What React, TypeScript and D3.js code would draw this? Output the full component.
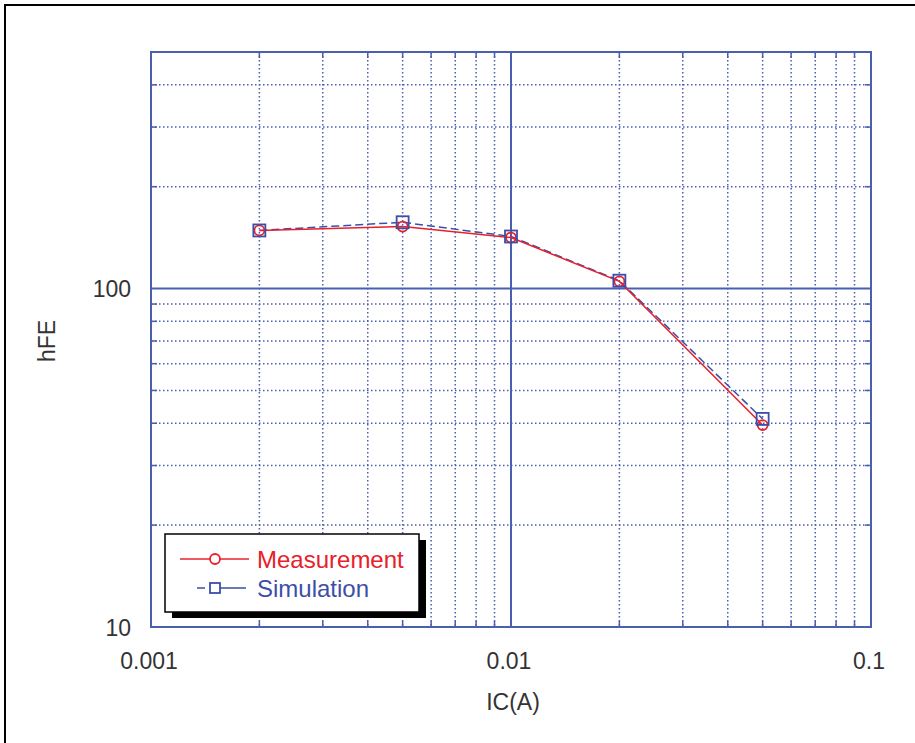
import React, { useRef, useEffect } from 'react';
import * as d3 from 'd3';

// IC (A) values at which hFE was measured / simulated
const icValues = [0.002, 0.005, 0.01, 0.02, 0.05];
const measurement = [148.5, 152.5, 141.5, 105, 39.5];
const simulation = [148.5, 157, 142.5, 105.5, 41.2];

const xTickLabels = ['0.001', '0.01', '0.1'];
const yTickLabels = ['10', '100'];
const seriesNames = ['Measurement', 'Simulation'];

const W = 915;
const H = 743;
const margin = { left: 151, right: 44, top: 52, bottom: 116 };
const gridBlue = '#4a5fb0';
const red = '#e8202a';
const blue = '#3c4fa8';
const textGray = '#333';

const App: React.FC = () => {
  const svgRef = useRef<SVGSVGElement | null>(null);

  useEffect(() => {
    if (!svgRef.current) return;
    const svg = d3.select(svgRef.current);
    svg.selectAll('*').remove();

    const x = d3.scaleLog().domain([0.001, 0.1]).range([margin.left, W - margin.right]);
    const y = d3.scaleLog().domain([10, 500]).range([H - margin.bottom, margin.top]);
    const [x0, x1] = x.range();
    const [y0, y1] = y.range();

    svg.append('rect')
      .attr('x', 0).attr('y', 0).attr('width', W).attr('height', H)
      .attr('fill', '#fff');
    // outer frame
    svg.append('rect')
      .attr('x', 5).attr('y', 5).attr('width', W + 10).attr('height', H + 10)
      .attr('fill', 'none').attr('stroke', '#000').attr('stroke-width', 2);

    const g = svg.append('g');

    const isDecade = (v: number) => Math.abs(Math.log10(v) - Math.round(Math.log10(v))) < 1e-6;
    const xMinor = x.ticks().filter(v => !isDecade(v));
    const yMinor = y.ticks().filter(v => !isDecade(v));

    // minor grid (dotted)
    g.selectAll('line.xg')
      .data(xMinor)
      .enter().append('line')
      .attr('x1', d => x(d)).attr('x2', d => x(d))
      .attr('y1', y1).attr('y2', y0)
      .attr('stroke', gridBlue).attr('stroke-width', 1.5)
      .attr('stroke-dasharray', '1.5,2.5');
    g.selectAll('line.yg')
      .data(yMinor)
      .enter().append('line')
      .attr('y1', d => y(d)).attr('y2', d => y(d))
      .attr('x1', x0).attr('x2', x1)
      .attr('stroke', gridBlue).attr('stroke-width', 1.5)
      .attr('stroke-dasharray', '1.5,2.5');

    // major grid
    const xMajor = xTickLabels.map(Number);
    const yMajor = yTickLabels.map(Number);
    g.selectAll('line.xm')
      .data(xMajor.slice(1, -1))
      .enter().append('line')
      .attr('x1', d => x(d)).attr('x2', d => x(d))
      .attr('y1', y1).attr('y2', y0)
      .attr('stroke', gridBlue).attr('stroke-width', 2);
    g.selectAll('line.ym')
      .data(yMajor.slice(1))
      .enter().append('line')
      .attr('y1', d => y(d)).attr('y2', d => y(d))
      .attr('x1', x0).attr('x2', x1)
      .attr('stroke', gridBlue).attr('stroke-width', 2);

    // small inner ticks on each side
    const tickLen = 6;
    const ticks = (cls: string, data: number[], fn: (sel: d3.Selection<SVGLineElement, number, SVGGElement, unknown>) => void) => {
      const sel = g.selectAll<SVGLineElement, number>(`line.${cls}`)
        .data(data)
        .enter().append('line')
        .attr('stroke', gridBlue).attr('stroke-width', 1.5);
      fn(sel);
    };
    ticks('xt', xMinor, s => s.attr('x1', d => x(d)).attr('x2', d => x(d)).attr('y1', y0).attr('y2', y0 - tickLen));
    ticks('xt2', xMinor, s => s.attr('x1', d => x(d)).attr('x2', d => x(d)).attr('y1', y1).attr('y2', y1 + tickLen));
    ticks('yt', yMinor, s => s.attr('y1', d => y(d)).attr('y2', d => y(d)).attr('x1', x0).attr('x2', x0 + tickLen));
    ticks('yt2', yMinor, s => s.attr('y1', d => y(d)).attr('y2', d => y(d)).attr('x1', x1).attr('x2', x1 - tickLen));

    // plot frame
    g.append('rect')
      .attr('x', x0).attr('y', y1).attr('width', x1 - x0).attr('height', y0 - y1)
      .attr('fill', 'none').attr('stroke', gridBlue).attr('stroke-width', 2);

    // tick labels
    const font = 'Liberation Sans, Arial, sans-serif';
    g.selectAll('text.xl')
      .data(xTickLabels)
      .enter().append('text')
      .attr('x', d => x(Number(d)) - 2).attr('y', y0 + 42)
      .attr('text-anchor', 'middle')
      .attr('font-family', font).attr('font-size', 23).attr('fill', textGray)
      .text(d => d);
    g.selectAll('text.yl')
      .data(yTickLabels)
      .enter().append('text')
      .attr('x', x0 - 20).attr('y', d => y(Number(d)) + 8.5)
      .attr('text-anchor', 'end')
      .attr('font-family', font).attr('font-size', 23).attr('fill', textGray)
      .text(d => d);

    // axis titles
    g.append('text')
      .attr('x', (x0 + x1) / 2 + 2).attr('y', y0 + 83)
      .attr('text-anchor', 'middle')
      .attr('font-family', font).attr('font-size', 23).attr('fill', textGray)
      .text('IC(A)');
    g.append('text')
      .attr('transform', `translate(55,341) rotate(-90)`)
      .attr('text-anchor', 'middle')
      .attr('font-family', font).attr('font-size', 23).attr('fill', textGray)
      .text('hFE');

    // series
    const line = d3.line<[number, number]>().x(d => x(d[0])).y(d => y(d[1]));
    const simPts = icValues.map((v, i) => [v, simulation[i]] as [number, number]);
    const measPts = icValues.map((v, i) => [v, measurement[i]] as [number, number]);

    g.append('path')
      .attr('d', line(simPts))
      .attr('fill', 'none').attr('stroke', blue).attr('stroke-width', 1.5)
      .attr('stroke-dasharray', '8,4');
    g.append('path')
      .attr('d', line(measPts))
      .attr('fill', 'none').attr('stroke', red).attr('stroke-width', 1.5);

    g.selectAll('circle.m')
      .data(measPts)
      .enter().append('circle')
      .attr('cx', d => x(d[0])).attr('cy', d => y(d[1])).attr('r', 5)
      .attr('fill', 'none').attr('stroke', red).attr('stroke-width', 1.8);
    g.selectAll('rect.s')
      .data(simPts)
      .enter().append('rect')
      .attr('x', d => x(d[0]) - 6).attr('y', d => y(d[1]) - 6)
      .attr('width', 12).attr('height', 12)
      .attr('fill', 'none').attr('stroke', blue).attr('stroke-width', 1.8);

    // legend
    const lx = 165, ly = 534, lw = 254, lh = 78;
    g.append('rect')
      .attr('x', lx + 7).attr('y', ly + 6).attr('width', lw).attr('height', lh)
      .attr('fill', '#000');
    g.append('rect')
      .attr('x', lx).attr('y', ly).attr('width', lw).attr('height', lh)
      .attr('fill', '#fff').attr('stroke', '#000').attr('stroke-width', 1.5);

    const rowY = [ly + 25, ly + 54];
    // measurement entry
    g.append('line')
      .attr('x1', lx + 15).attr('x2', lx + 84).attr('y1', rowY[0]).attr('y2', rowY[0])
      .attr('stroke', red).attr('stroke-width', 1.5);
    g.append('circle')
      .attr('cx', lx + 50).attr('cy', rowY[0]).attr('r', 5)
      .attr('fill', '#fff').attr('stroke', red).attr('stroke-width', 1.8);
    // simulation entry
    g.append('line')
      .attr('x1', lx + 32).attr('x2', lx + 81).attr('y1', rowY[1]).attr('y2', rowY[1])
      .attr('stroke', blue).attr('stroke-width', 1.5).attr('stroke-dasharray', '8,6,40');
    g.append('rect')
      .attr('x', lx + 45).attr('y', rowY[1] - 5).attr('width', 10).attr('height', 10)
      .attr('fill', '#fff').attr('stroke', blue).attr('stroke-width', 1.8);

    g.selectAll('text.leg')
      .data(seriesNames)
      .enter().append('text')
      .attr('x', lx + 92).attr('y', (_d, i) => rowY[i] + 9)
      .attr('font-family', font).attr('font-size', 24)
      .attr('fill', (_d, i) => (i === 0 ? red : blue))
      .text(d => d);
  }, []);

  return (
    <svg
      ref={svgRef}
      width={W}
      height={H}
      style={{ position: 'absolute', left: 0, top: 0, display: 'block' }}
    />
  );
};

export default App;
